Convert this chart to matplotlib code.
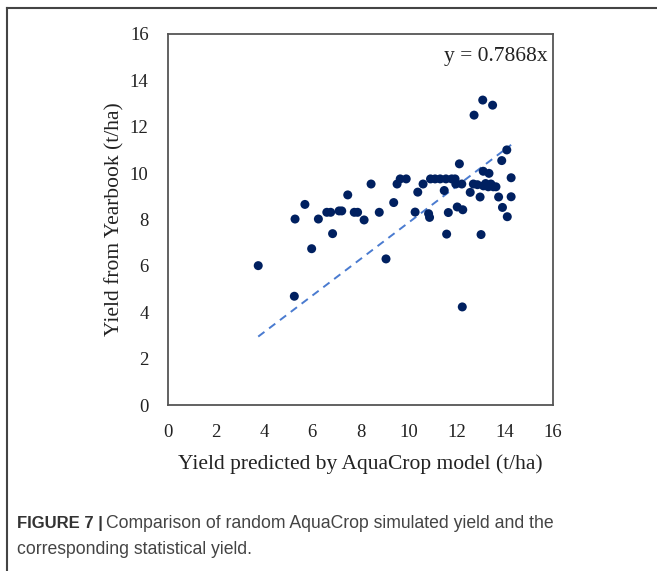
import numpy as np
import matplotlib.pyplot as plt
from matplotlib.lines import Line2D

# values (t/ha)
predicted = [3.75, 5.25, 5.28, 5.69, 5.97, 6.25, 6.60, 6.76, 6.84, 7.11,
             7.22, 7.47, 7.74, 7.88, 8.15, 8.44, 8.78, 9.06, 9.38, 9.52,
             9.65, 9.90, 10.27, 10.38, 10.60, 10.83, 10.87, 10.91, 11.10, 11.31,
             11.55, 11.79, 11.93, 11.48, 11.58, 11.65, 11.96, 12.02, 12.25, 12.11,
             12.21, 12.23, 12.56, 12.72, 12.69, 12.86, 13.11, 13.31, 13.52, 13.63,
             12.97, 13.01, 13.08, 13.10, 13.34, 13.49, 13.74, 13.90, 13.87, 14.08,
             14.10, 14.26, 14.26, 13.20, 13.42]
yearbook = [6.01, 4.69, 8.02, 8.65, 6.74, 8.02, 8.31, 8.31, 7.39, 8.37,
            8.37, 9.06, 8.31, 8.31, 7.98, 9.53, 8.31, 6.30, 8.73, 9.53,
            9.75, 9.75, 8.32, 9.18, 9.53, 8.25, 8.09, 9.75, 9.75, 9.75,
            9.75, 9.75, 9.75, 9.25, 7.37, 8.30, 9.53, 8.54, 8.42, 10.40,
            9.53, 4.23, 9.17, 12.50, 9.53, 9.50, 9.45, 9.41, 9.41, 9.41,
            8.97, 7.35, 13.15, 10.08, 9.99, 12.93, 8.97, 8.52, 10.54, 11.00,
            8.12, 9.80, 8.98, 9.55, 9.53]
slope = 0.7868
ticks = [0, 2, 4, 6, 8, 10, 12, 14, 16]

serif = ['Liberation Serif', 'DejaVu Serif']

fig = plt.figure(figsize=(6.57, 5.71), dpi=100)
ax = fig.add_axes([0.2557, 0.2907, 0.586, 0.6498])

x = np.array(predicted)
fit_x = np.array([x.min(), x.max()])
ax.plot(fit_x, slope * fit_x, ls=(0, (4, 3)), color='#4a7bd0', lw=1.4, zorder=2)
ax.scatter(predicted, yearbook, s=42, color='#002060', edgecolors='none', zorder=3)

ax.set_xlim(0, 16)
ax.set_ylim(0, 16)
ax.set_xticks(ticks)
ax.set_yticks(ticks)
ax.tick_params(length=0, pad=14, labelsize=13.5, labelcolor='#222222')
for lab in ax.get_xticklabels() + ax.get_yticklabels():
    lab.set_family(serif)
for sp in ax.spines.values():
    sp.set_color('#555555')
    sp.set_linewidth(1.3)

ax.set_xlabel('Yield predicted by AquaCrop model (t/ha)', family=serif,
              fontsize=15.5, color='#222222', labelpad=9)
ax.set_ylabel('Yield from Yearbook (t/ha)', family=serif,
              fontsize=15.5, color='#222222', labelpad=4)
ax.text(0.985, 0.965, 'y = 0.7868x', transform=ax.transAxes, ha='right', va='top',
        family=serif, fontsize=15.5, color='#222222')

# outer frame (left and top edges)
fig.add_artist(Line2D([0.011, 0.011], [0.0, 0.986], transform=fig.transFigure,
                      color='#444444', lw=1.5))
fig.add_artist(Line2D([0.011, 1.0], [0.986, 0.986], transform=fig.transFigure,
                      color='#444444', lw=1.5))

cap_font = ['Liberation Sans', 'DejaVu Sans']
t1 = fig.text(0.026, 0.075, 'FIGURE 7 |', family=cap_font, fontsize=12,
              fontweight='bold', color='#333333', va='baseline')
fig.canvas.draw()
bb = t1.get_window_extent()
x_after = bb.x1 / fig.bbox.width + 0.005
fig.text(x_after, 0.075, 'Comparison of random AquaCrop simulated yield and the',
         family=cap_font, fontsize=12.7, color='#444444', va='baseline')
fig.text(0.026, 0.030, 'corresponding statistical yield.', family=cap_font,
         fontsize=12.7, color='#444444', va='baseline')

fig.savefig('out.png', dpi=100)
